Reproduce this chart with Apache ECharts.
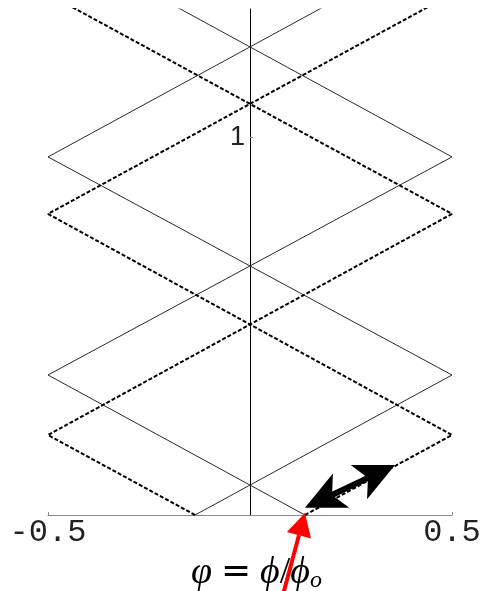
<!DOCTYPE html>
<html><head><meta charset="utf-8">
<script src="https://cdn.jsdelivr.net/npm/echarts@6/dist/echarts.min.js"></script>
<style>html,body{margin:0;padding:0;background:#fff}#chart{width:485px;height:591px}</style>
</head><body><div id="chart"></div>
<script>
// Zig-zag energy branches: vertices as (φ, E)
const solidAX = [-0.136, 0.5, -0.5, 0.5];
const solidAY = [0, 0.371, 0.949, 1.532];
const solidBX = [0.136, -0.5, 0.5, -0.5];
const solidBY = [0, 0.371, 0.949, 1.532];
const dashCX = [-0.136, -0.5, 0.5, -0.5];
const dashCY = [0, 0.212, 0.798, 1.381];
const dashDX = [0.136, 0.5, -0.5, 0.5];
const dashDY = [0, 0.212, 0.798, 1.381];
const xTicks = [-0.5, 0.5];
const yTicks = [1];
// Annotation arrows, in data coordinates: [tail, tip]
const redArrow = [[0.082, -0.21], [0.136, 0.005]];
const blackArrow = [[0.136, 0.019], [0.359, 0.1325]];

const pts = (xs, ys) => xs.map((x, i) => [x, ys[i]]);
const chart = echarts.init(document.getElementById('chart'), null, {renderer: 'canvas'});

const GRID = {left: 48, right: 33, top: 9, bottom: 76};
const plotW = 485 - GRID.left - GRID.right;
const mono = {fontFamily: 'Liberation Mono', fontSize: 32, color: '#222', width: 19.2, align: 'center'};
const solid = {color: '#2a2a2a', width: 1};
const dashed = {color: '#000', width: 2, type: [4, 2]};

chart.setOption({
  animation: false,
  grid: Object.assign({outerBoundsMode: 'none', containLabel: false}, GRID),
  xAxis: {
    type: 'value', min: -0.5, max: 0.5,
    splitLine: {show: false},
    axisLine: {onZero: false, lineStyle: {color: '#888', width: 1}},
    axisTick: {inside: true, length: 3, lineStyle: {color: '#888'}, customValues: xTicks},
    axisLabel: {
      customValues: xTicks, margin: 2,
      formatter: v => String(v).split('').map(c => '{c|' + c + '}').join(''),
      rich: {c: mono}
    },
    name: '{a|φ}{e|=}{a|ϕ}{sl|/}{a|ϕ}{s|o}',
    nameLocation: 'middle', nameGap: 34,
    nameTextStyle: {
      padding: [0, 0, 0, 13],
      rich: {
        a: {fontFamily: 'Liberation Serif', fontStyle: 'italic', fontSize: 38, color: '#000'},
        e: {fontFamily: 'DejaVu Sans', fontSize: 36, color: '#000', width: 48, align: 'center'},
        sl: {fontFamily: 'Liberation Serif', fontSize: 38, color: '#000'},
        s: {fontFamily: 'Liberation Serif', fontStyle: 'italic', fontSize: 24, color: '#000', verticalAlign: 'bottom', padding: [16, 0, 0, 0]}
      }
    }
  },
  yAxis: {
    type: 'value', min: 0, max: 1.341,
    offset: -plotW / 2,
    splitLine: {show: false},
    axisLine: {onZero: false, lineStyle: {color: '#000', width: 1}},
    axisTick: {inside: true, length: 3, lineStyle: {color: '#888'}, customValues: yTicks},
    axisLabel: {customValues: yTicks, margin: 5, fontFamily: 'Liberation Sans', fontSize: 27, color: '#222'}
  },
  series: [
    {type: 'line', data: pts(solidAX, solidAY), showSymbol: false, lineStyle: solid},
    {type: 'line', data: pts(solidBX, solidBY), showSymbol: false, lineStyle: solid},
    {type: 'line', data: pts(dashCX, dashCY), showSymbol: false, lineStyle: dashed},
    {type: 'line', data: pts(dashDX, dashDY), showSymbol: false, lineStyle: dashed}
  ]
});

// Arrow heads as polygons in pixel space
function head(tip, ux, uy, len, half, notch) {
  const bx = tip[0] - ux * len, by = tip[1] - uy * len;
  const px = -uy, py = ux;
  return [tip, [bx + px * half, by + py * half],
          [tip[0] - ux * (len - notch), tip[1] - uy * (len - notch)],
          [bx - px * half, by - py * half]];
}
function arrowGraphics(a, b, opt) {
  const pa = chart.convertToPixel({gridIndex: 0}, a);
  const pb = chart.convertToPixel({gridIndex: 0}, b);
  const dx = pb[0] - pa[0], dy = pb[1] - pa[1];
  const L = Math.hypot(dx, dy), ux = dx / L, uy = dy / L;
  const out = [];
  const end = [pb[0] - ux * (opt.len - opt.notch), pb[1] - uy * (opt.len - opt.notch)];
  let start = pa;
  if (opt.both) start = [pa[0] + ux * (opt.len - opt.notch), pa[1] + uy * (opt.len - opt.notch)];
  out.push({type: 'line', z: 100, shape: {x1: start[0], y1: start[1], x2: end[0], y2: end[1]},
            style: {stroke: opt.color, lineWidth: opt.w}});
  out.push({type: 'polygon', z: 101, shape: {points: head(pb, ux, uy, opt.len, opt.half, opt.notch)},
            style: {fill: opt.color}});
  if (opt.both) out.push({type: 'polygon', z: 101, shape: {points: head(pa, -ux, -uy, opt.len, opt.half, opt.notch)},
            style: {fill: opt.color}});
  return out;
}
chart.setOption({graphic: [
  ...arrowGraphics(blackArrow[0], blackArrow[1], {color: '#000', w: 6, len: 40, half: 19, notch: 10, both: true}),
  ...arrowGraphics(redArrow[0], redArrow[1], {color: '#ff0000', w: 4, len: 23, half: 12.5, notch: 0, both: false})
]});
</script>
</body></html>
